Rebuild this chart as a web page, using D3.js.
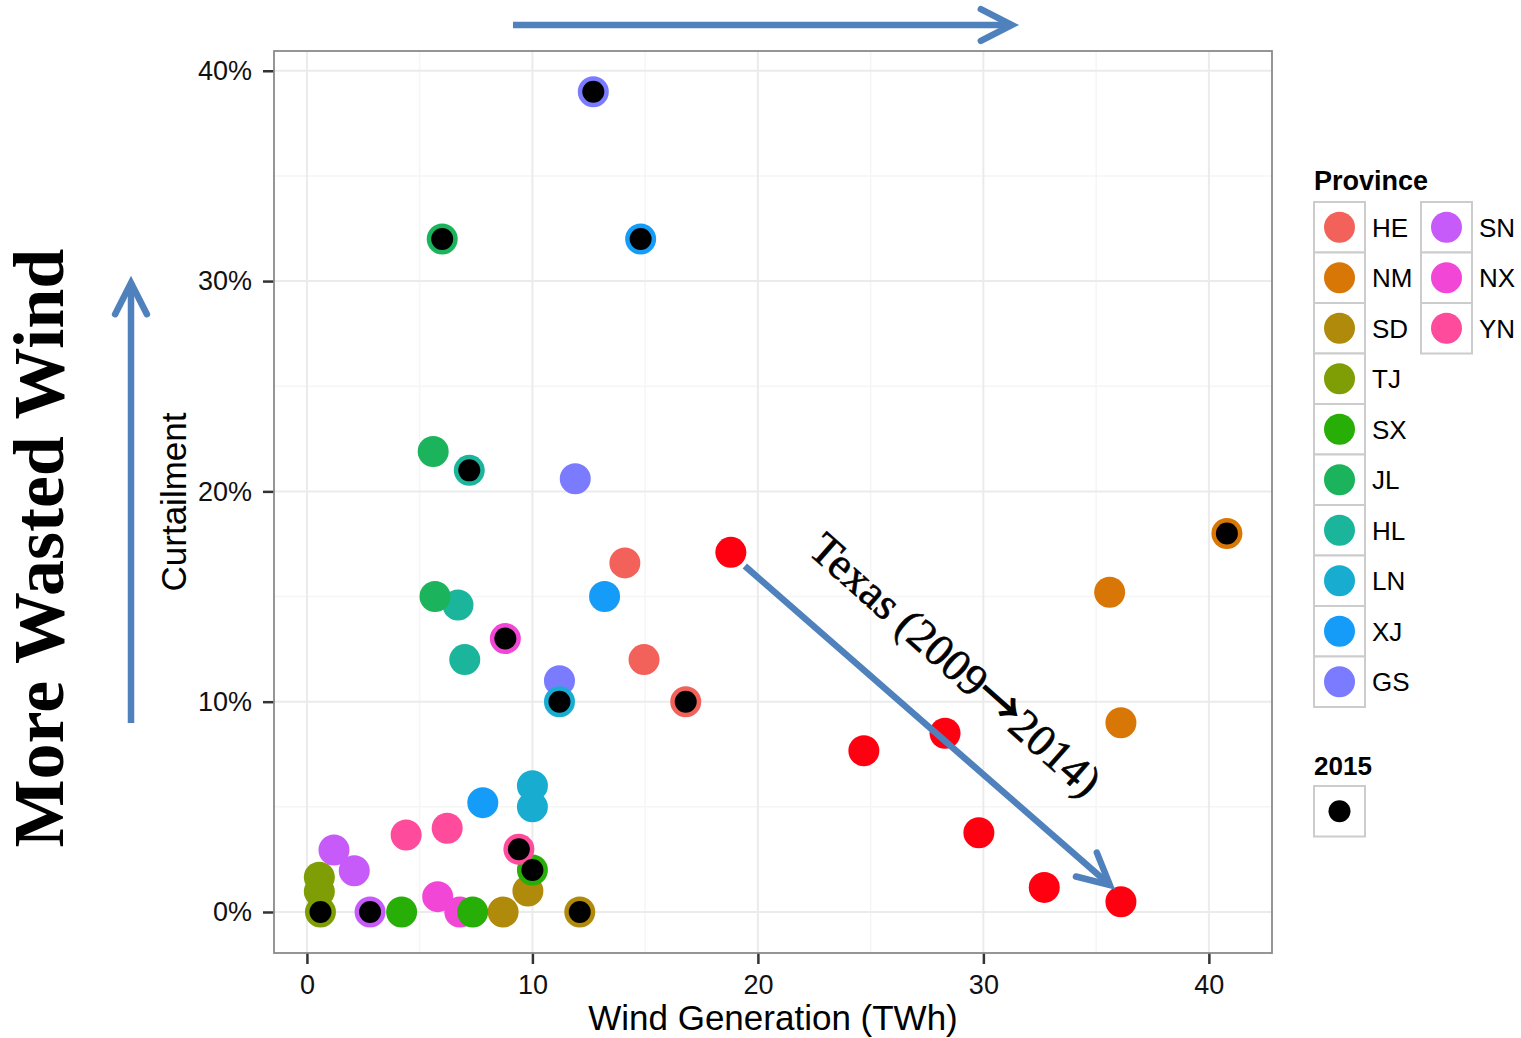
<!DOCTYPE html>
<html><head><meta charset="utf-8">
<script src="https://cdn.jsdelivr.net/npm/d3@7/dist/d3.min.js"></script>
<style>body{margin:0;background:#fff} svg{display:block}</style>
</head><body><svg id="c" width="1521" height="1038"></svg>
<script>
// ---------- data ----------
const provinces = ["HE","NM","SD","TJ","SX","JL","HL","LN","XJ","GS","SN","NX","YN"];
const provinceColors = ["#F2625B","#D97706","#B08A0A","#7F9E05","#27AE07","#1BB35B","#1BB59C","#18ADD0","#149CF8","#7A7BFE","#C65BFA","#F146D6","#FE4B9B"];
// earlier years: [province, wind generation (TWh), curtailment (%)]
const earlierPoints = [
  ["HE",14.1,16.6],["HE",14.95,12.0],
  ["NM",35.6,15.2],["NM",36.1,9.0],
  ["SD",8.7,0.0],["SD",9.8,1.0],
  ["TJ",0.55,1.65],["TJ",0.55,0.97],
  ["SX",4.2,0.0],
  ["HL",6.7,14.6],["HL",7.0,12.0],
  ["JL",5.6,21.9],["JL",5.68,15.0],
  ["LN",10.0,6.0],["LN",10.0,5.0],
  ["XJ",7.8,5.2],["XJ",13.2,15.0],
  ["GS",11.9,20.6],["GS",11.2,11.0],
  ["SN",1.2,2.95],["SN",2.1,1.96],
  ["NX",5.8,0.73],["NX",6.78,0.0],
  ["YN",4.4,3.66],["YN",6.22,3.98],
  ["SX",7.35,0.0]
];
// 2015: [province, wind generation (TWh), curtailment (%)]
const points2015 = [
  ["HE",16.8,10.0],["NM",40.8,18.0],["SD",12.1,0.0],["TJ",0.6,0.0],
  ["SX",10.0,2.0],["JL",6.0,32.0],["HL",7.2,21.0],["LN",11.2,10.0],
  ["XJ",14.8,32.0],["GS",12.7,39.0],["SN",2.8,0.0],["NX",8.8,13.0],["YN",9.4,2.98]
];
// Texas 2009 -> 2014
const texasGen  = [18.8, 24.7, 28.3, 29.8, 32.7, 36.1];
const texasCurt = [17.1, 7.67, 8.5, 3.77, 1.17, 0.49];
const texasColor = "#FF0010";
const xTicks = [0,10,20,30,40];
const yTicks = [0,10,20,30,40];
const xMinor = [5,15,25,35];
const yMinor = [5,15,25,35];
const texasArrow = [[19.42,16.45],[35.61,1.28]];
const texasLabelParts = ["Texas (2009", "\u2192", "2014)"];

// ---------- layout ----------
const svg = d3.select("#c");
const L = 274, R = 1272, T = 51, B = 953;
const x = d3.scaleLinear().domain([-1.46, 42.8]).range([L, R]);
const y = d3.scaleLinear().domain([-1.95, 40.94]).range([B, T]);
const color = d3.scaleOrdinal().domain(provinces).range(provinceColors);
const sans = "'Liberation Sans', Arial, Helvetica, sans-serif";
const serif = "'Liberation Serif', 'Times New Roman', serif";
const blue = "#4F81BD";

svg.append("rect").attr("width",1521).attr("height",1038).attr("fill","#fff");

// grid
const g = svg.append("g");
g.selectAll(".vmin").data(xMinor).join("line")
  .attr("x1",d=>x(d)).attr("x2",d=>x(d)).attr("y1",T).attr("y2",B)
  .attr("stroke","#F5F5F5").attr("stroke-width",1.5);
g.selectAll(".hmin").data(yMinor).join("line")
  .attr("y1",d=>y(d)).attr("y2",d=>y(d)).attr("x1",L).attr("x2",R)
  .attr("stroke","#F5F5F5").attr("stroke-width",1.5);
g.selectAll(".vmaj").data(xTicks).join("line")
  .attr("x1",d=>x(d)).attr("x2",d=>x(d)).attr("y1",T).attr("y2",B)
  .attr("stroke","#EBEBEB").attr("stroke-width",2);
g.selectAll(".hmaj").data(yTicks).join("line")
  .attr("y1",d=>y(d)).attr("y2",d=>y(d)).attr("x1",L).attr("x2",R)
  .attr("stroke","#EBEBEB").attr("stroke-width",2);

// axes
const xAxis = svg.append("g").attr("transform",`translate(0,${B})`)
  .call(d3.axisBottom(x).tickValues(xTicks).tickSize(11).tickPadding(11).tickFormat(d3.format("d")));
const yAxis = svg.append("g").attr("transform",`translate(${L},0)`)
  .call(d3.axisLeft(y).tickValues(yTicks).tickSize(11).tickPadding(11).tickFormat(d=>d+"%"));
[xAxis,yAxis].forEach(a=>{
  a.select(".domain").remove();
  a.selectAll(".tick line").attr("stroke","#333").attr("stroke-width",2.5);
  a.selectAll(".tick text").attr("fill","#111").style("font-family",sans).style("font-size","27px");
});

// panel border
svg.append("rect").attr("x",L).attr("y",T).attr("width",R-L).attr("height",B-T)
  .attr("fill","none").attr("stroke","#8a8a8a").attr("stroke-width",1.8);

// points
const R0 = 15.5;
svg.append("g").selectAll("circle").data(earlierPoints).join("circle")
  .attr("cx",d=>x(d[1])).attr("cy",d=>y(d[2])).attr("r",R0).attr("fill",d=>color(d[0]));
svg.append("g").selectAll("circle").data(texasGen).join("circle")
  .attr("cx",d=>x(d)).attr("cy",(d,i)=>y(texasCurt[i])).attr("r",R0).attr("fill",texasColor);
svg.append("g").selectAll("circle").data(points2015).join("circle")
  .attr("cx",d=>x(d[1])).attr("cy",d=>y(d[2])).attr("r",R0).attr("fill",d=>color(d[0]));
svg.append("g").selectAll("circle").data(points2015).join("circle")
  .attr("cx",d=>x(d[1])).attr("cy",d=>y(d[2])).attr("r",11).attr("fill","#000");

// arrows
function arrow(x1,y1,x2,y2){
  const a = Math.atan2(y2-y1,x2-x1), len = 35, sp = 27*Math.PI/180;
  const gA = svg.append("g").attr("stroke",blue).attr("stroke-width",6.5).attr("fill","none");
  gA.append("line").attr("x1",x1).attr("y1",y1).attr("x2",x2).attr("y2",y2);
  gA.append("path").attr("stroke-linecap","round").attr("stroke-linejoin","miter")
    .attr("d",`M${x2-len*Math.cos(a-sp)},${y2-len*Math.sin(a-sp)}L${x2},${y2}L${x2-len*Math.cos(a+sp)},${y2-len*Math.sin(a+sp)}`);
}
arrow(513,25,1012,25);
arrow(131,723,131,283);
arrow(x(texasArrow[0][0]),y(texasArrow[0][1]),x(texasArrow[1][0]),y(texasArrow[1][1]));

// Texas label
const tl = svg.append("text").attr("transform","translate(956,664) rotate(41.5)")
  .attr("text-anchor","middle").attr("dy","0.35em")
  .style("font-family",serif).style("font-size","45px").attr("fill","#000")
  .attr("stroke","#000").attr("stroke-width",0.6);
tl.append("tspan").text(texasLabelParts[0]);
tl.append("tspan").style("font-family","'Noto Sans CJK SC', 'DejaVu Sans', sans-serif")
  .style("font-size","46px").attr("stroke-width",1.6).text(texasLabelParts[1]);
tl.append("tspan").text(texasLabelParts[2]);

// axis titles
svg.append("text").attr("x",(L+R)/2).attr("y",1030).attr("text-anchor","middle")
  .style("font-family",sans).style("font-size","35px").attr("fill","#000").text("Wind Generation (TWh)");
svg.append("text").attr("transform",`translate(186,${(T+B)/2}) rotate(-90)`).attr("text-anchor","middle")
  .style("font-family",sans).style("font-size","35px").attr("fill","#000").text("Curtailment");

// big left title
svg.append("text").attr("transform","translate(63,548) rotate(-90)").attr("text-anchor","middle")
  .style("font-family",serif).style("font-size","72px").style("font-weight","bold").attr("fill","#000")
  .text("More Wasted Wind");

// legend
const lg = svg.append("g");
lg.append("text").attr("x",1314).attr("y",190).style("font-family",sans).style("font-size","27px")
  .style("font-weight","bold").text("Province");
const rowH = 50.5;
provinces.forEach((p,i)=>{
  const col = i<10?0:1, row = i<10?i:i-10;
  const bx = 1314 + col*107, by = 202 + row*rowH;
  lg.append("rect").attr("x",bx).attr("y",by).attr("width",51).attr("height",rowH)
    .attr("fill","#fff").attr("stroke","#CCCCCC").attr("stroke-width",2);
  lg.append("circle").attr("cx",bx+25.5).attr("cy",by+rowH/2).attr("r",R0).attr("fill",color(p));
  lg.append("text").attr("x",bx+58).attr("y",by+rowH/2).attr("dy","0.36em")
    .style("font-family",sans).style("font-size","26px").text(p);
});
lg.append("text").attr("x",1314).attr("y",775).style("font-family",sans).style("font-size","26px")
  .style("font-weight","bold").text("2015");
lg.append("rect").attr("x",1314).attr("y",786).attr("width",51).attr("height",rowH)
  .attr("fill","#fff").attr("stroke","#CCCCCC").attr("stroke-width",2);
lg.append("circle").attr("cx",1339.5).attr("cy",786+rowH/2).attr("r",11).attr("fill","#000");
</script></body></html>
